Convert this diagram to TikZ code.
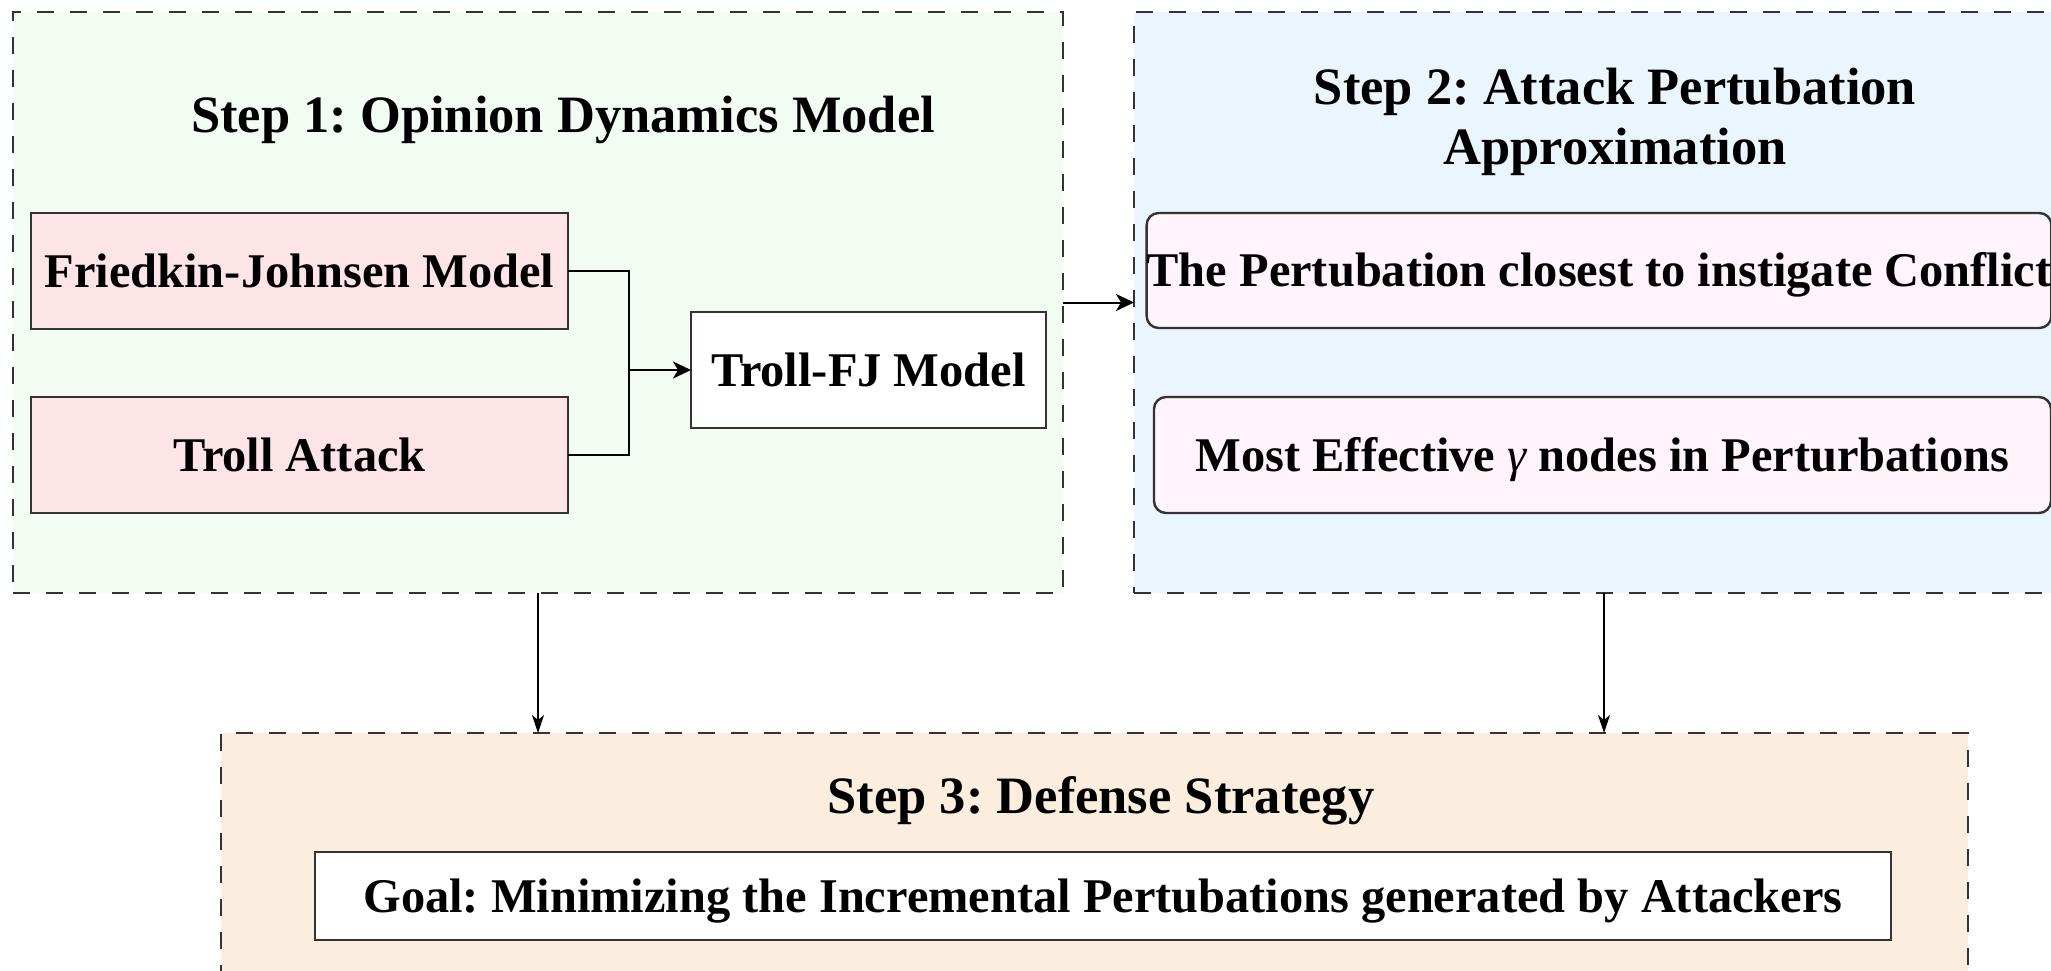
\documentclass[tikz,border=0pt]{standalone}
\usepackage{fontspec}
\setmainfont{Liberation Serif}
\usetikzlibrary{arrows.meta}
\frenchspacing

\definecolor{greenbg}{HTML}{F2FCF2}
\definecolor{bluebg}{HTML}{EBF5FE}
\definecolor{orangebg}{HTML}{FBEEDF}
\definecolor{pinkbox}{HTML}{FCE4E7}
\definecolor{lilacbox}{HTML}{FFF3FC}
\definecolor{edge}{HTML}{333333}

\tikzset{
  stage/.style={draw=edge, line width=1.4pt, dash pattern=on 8.5pt off 8pt,
    inner sep=0pt, outer sep=0pt},
  title/.style={font=\fontsize{26.25}{30}\selectfont\bfseries, anchor=base,
    inner sep=0pt},
  block/.style={draw=edge, line width=1.2pt, inner sep=0pt, outer sep=0pt,
    font=\fontsize{24.2}{28}\selectfont\bfseries, text height=16pt, text depth=0pt,
    minimum height=58pt},
  softblock/.style={block, rounded corners=6pt, fill=lilacbox},
  link/.style={line width=1pt, -{Stealth[length=9pt,width=8.5pt,inset=2.5pt]}},
  thinlink/.style={line width=0.75pt, -{Stealth[length=9pt,width=6pt,inset=2.5pt]}},
}

\begin{document}
\begin{tikzpicture}[x=0.5pt, y=-0.5pt]
\useasboundingbox (0,0) rectangle (2051,970);
\clip (0,0) rectangle (2051,970);

% the three stage frames
\node[stage, fill=greenbg, minimum width=525pt, minimum height=290.5pt] (s1) at (538,302.5) {};
\node[stage, fill=bluebg, minimum width=470pt, minimum height=290.5pt] (s2) at (1604,302.5) {};
\node[stage, fill=orangebg, minimum width=873.5pt, minimum height=133.5pt] (s3) at (1094.5,866.5) {};

% stage titles
\node[title] (t1) at (563,132) {Step 1: Opinion Dynamics Model};
\node[title] (t2a) at (1615,104) {Step 2: Attack Pertubation};
\node[title] (t2b) at (1615,164) {Approximation};
\node[title] (t3) at (1101,813) {Step 3: Defense Strategy};

% step 1 contents
\node[block, fill=pinkbox, minimum width=268.5pt] (fk) at (299.5,271) {Friedkin-Johnsen Model};
\node[block, fill=pinkbox, minimum width=268.5pt] (ta) at (299.5,455) {Troll Attack};
\node[block, fill=white, minimum width=177.5pt] (fj) at (868.5,370) {Troll-FJ Model};
\coordinate (jn) at (629,370);
\draw[line width=1pt] (fk.east) -| (jn);
\draw[line width=1pt] (ta.east) -| (jn);
\draw[link] (jn) -- (fj.west);

% step 2 contents
\node[softblock, minimum width=452pt, minimum height=57.5pt] (p1) at (1599,270.5)
  {The Pertubation closest to instigate Conflict};
\node[softblock, minimum width=448.5pt] (p2) at (1602.5,455)
  {Most Effective {\normalfont\itshape γ} nodes in Perturbations};

% step 3 contents
\node[block, fill=white, line width=1.4pt, minimum width=788pt, minimum height=44pt] (goal) at (1103,896)
  {Goal: Minimizing the Incremental Pertubations generated by Attackers};

% flow between stages
\draw[link] (s1.east) -- (s2.west);
\draw[thinlink] (s1.south) -- (s1.south |- s3.north);
\draw[thinlink] (s2.south) -- (s2.south |- s3.north);
\end{tikzpicture}
\end{document}
